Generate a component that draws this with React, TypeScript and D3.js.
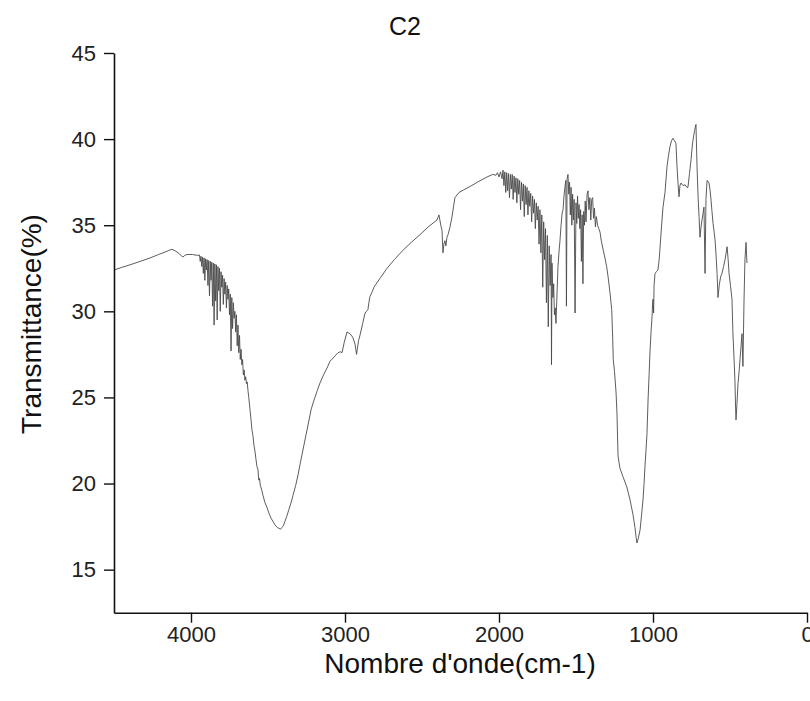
import * as d3 from 'd3'
import { useEffect, useRef } from 'react'

// [wavenumber cm-1, transmittance %], left to right
const baseline: [number, number][] = [
  [4500, 32.4], [4450, 32.55], [4396, 32.7], [4330, 32.9], [4266, 33.1], [4210, 33.3],
  [4169, 33.44], [4140, 33.55], [4123, 33.6], [4100, 33.5], [4084, 33.4], [4065, 33.25],
  [4052, 33.15], [4040, 33.25], [4026, 33.3], [3990, 33.3], [3960, 33.25], [3945, 33.27],
]

const ohNoise: [number, number][] = [
  [3940, 32.9], [3935, 33.2], [3930, 32.6], [3925, 33.15], [3920, 32.2], [3915, 33.1],
  [3910, 31.8], [3905, 33.05], [3900, 32.4], [3895, 33.0], [3890, 31.5], [3885, 32.95],
  [3880, 30.9], [3875, 32.9], [3870, 31.8], [3865, 32.85], [3860, 30.3], [3855, 32.8],
  [3850, 29.2], [3845, 32.75], [3840, 30.6], [3835, 32.7], [3830, 29.5], [3825, 32.6],
  [3820, 31.2], [3815, 32.5], [3810, 30.0], [3805, 32.3], [3800, 31.4], [3795, 32.1],
  [3790, 30.4], [3785, 31.9], [3780, 31.0], [3775, 31.7], [3770, 30.2], [3765, 31.5],
  [3760, 30.7], [3755, 31.3], [3750, 29.8], [3745, 31.0], [3740, 27.7], [3735, 30.8],
  [3730, 29.0], [3725, 30.5], [3720, 29.6], [3715, 30.0], [3710, 28.8], [3705, 29.8],
  [3700, 28.0], [3695, 29.2], [3690, 27.6], [3685, 28.6], [3680, 27.2], [3675, 27.8],
  [3670, 26.9], [3665, 27.2], [3660, 26.3], [3655, 26.6], [3650, 26.0],
]

const ohBand: [number, number][] = [
  [3645, 26.2], [3640, 25.8], [3635, 25.9], [3630, 25.4], [3625, 25.0], [3617, 24.3],
  [3610, 23.7], [3604, 23.1], [3598, 22.8], [3591, 22.2], [3585, 21.9], [3578, 21.4],
  [3572, 21.0], [3565, 20.8], [3560, 20.2], [3555, 20.3], [3550, 19.9], [3540, 19.6],
  [3532, 19.3], [3520, 18.9], [3506, 18.6], [3495, 18.3], [3481, 18.0], [3468, 17.8],
  [3455, 17.6], [3440, 17.45], [3429, 17.4], [3418, 17.35], [3409, 17.45], [3400, 17.55],
  [3390, 17.8], [3378, 18.1], [3364, 18.5], [3350, 18.9], [3338, 19.3], [3320, 19.9],
  [3305, 20.5], [3290, 21.2], [3273, 21.95], [3256, 22.7], [3240, 23.4], [3220, 24.3],
  [3201, 24.85], [3180, 25.4], [3162, 25.85], [3140, 26.3], [3117, 26.7], [3097, 27.1],
  [3071, 27.35], [3045, 27.6], [3030, 27.65], [3019, 27.6],
]

const chRegion: [number, number][] = [
  [3005, 28.2], [2987, 28.8], [2968, 28.7], [2950, 28.5], [2935, 28.1], [2925, 27.5],
  [2920, 27.8], [2912, 28.3], [2903, 28.6], [2885, 29.3], [2870, 29.9], [2860, 30.0],
  [2851, 30.1], [2845, 30.5], [2838, 30.85], [2825, 31.1], [2812, 31.4], [2770, 31.95],
  [2727, 32.5], [2680, 33.0], [2623, 33.55], [2570, 34.0], [2513, 34.45], [2460, 34.9],
  [2403, 35.3],
]

const co2Dip: [number, number][] = [
  [2390, 35.6], [2378, 35.0], [2370, 34.7], [2364, 33.4], [2358, 33.9], [2351, 34.1],
  [2345, 33.8], [2338, 34.3], [2331, 34.45], [2318, 34.9], [2305, 35.5], [2295, 36.1],
  [2286, 36.6], [2260, 36.9], [2230, 37.05], [2188, 37.25], [2130, 37.55], [2078, 37.8],
  [2040, 37.95], [2020, 37.9], [2010, 38.05], [2000, 37.8], [1990, 38.1], [1980, 37.7],
  [1974, 38.2],
]

const waterNoise: [number, number][] = [
  [1968, 37.3], [1962, 38.1], [1956, 36.9], [1950, 38.05], [1944, 37.0], [1938, 38.0],
  [1932, 36.6], [1926, 37.95], [1920, 37.1], [1914, 37.95], [1908, 36.5], [1902, 37.85],
  [1896, 36.9], [1890, 37.75], [1884, 36.3], [1878, 37.7], [1872, 36.8], [1866, 37.6],
  [1860, 35.9], [1854, 37.5], [1848, 36.4], [1842, 37.4], [1836, 35.5], [1830, 37.3],
  [1824, 36.2], [1818, 37.2], [1812, 35.6], [1806, 37.0], [1800, 36.1], [1794, 36.85],
  [1788, 35.2], [1782, 36.7], [1776, 35.7], [1770, 36.5], [1764, 34.8], [1758, 36.3],
  [1752, 35.3], [1746, 36.1], [1740, 33.9], [1734, 35.9], [1728, 33.4], [1722, 35.6],
  [1716, 31.4], [1710, 35.2], [1704, 33.0], [1698, 34.8], [1692, 30.5], [1686, 34.4],
  [1680, 29.1], [1674, 33.8], [1668, 31.5], [1662, 33.3], [1659, 26.9], [1656, 32.8],
  [1650, 30.8], [1645, 31.6], [1640, 29.8], [1635, 30.2], [1630, 29.3], [1625, 30.6],
]

const aromatic: [number, number][] = [
  [1617, 32.6], [1610, 33.5], [1604, 34.1], [1597, 35.0], [1590, 35.7], [1584, 35.9],
  [1578, 36.7], [1572, 37.2], [1566, 37.6], [1562, 30.3], [1558, 37.7], [1552, 37.95],
  [1547, 36.8], [1542, 37.5], [1537, 35.6], [1532, 37.2], [1527, 35.0], [1522, 36.8],
  [1517, 35.3], [1512, 36.5], [1506, 29.9], [1500, 36.3], [1495, 35.1], [1490, 36.7],
  [1485, 35.4], [1480, 36.2], [1475, 34.8], [1470, 35.9], [1465, 32.9], [1460, 35.6],
  [1455, 31.6], [1450, 35.8], [1445, 35.0], [1440, 36.4], [1435, 35.2], [1428, 36.8],
  [1422, 37.0], [1416, 35.9], [1410, 36.6], [1404, 35.3], [1398, 36.5], [1392, 36.6],
  [1386, 35.4], [1380, 36.0], [1374, 34.9], [1368, 35.5], [1360, 35.0], [1352, 34.8],
  [1344, 34.6],
]

const siliconBand: [number, number][] = [
  [1336, 34.1], [1323, 33.55], [1312, 33.1], [1301, 32.6], [1290, 31.9], [1279, 31.05],
  [1268, 30.1], [1262, 28.5], [1258, 27.2], [1250, 26.5], [1240, 25.3], [1234, 24.1],
  [1227, 21.6], [1215, 20.9], [1195, 20.4], [1170, 19.8], [1149, 19.05], [1130, 18.2],
  [1117, 17.45], [1110, 16.9], [1104, 16.55], [1096, 16.8], [1084, 17.3], [1075, 18.1],
  [1065, 19.05], [1058, 20.0], [1052, 21.0], [1045, 22.0], [1039, 22.9], [1032, 24.85],
  [1025, 26.4], [1019, 27.75], [1012, 28.9], [1006, 29.7], [1003, 30.4], [1000, 30.7],
]

const fingerprint: [number, number][] = [
  [996, 29.9], [993, 31.5], [987, 32.2], [978, 32.3], [968, 32.4], [960, 33.0],
  [955, 33.6], [945, 34.9], [935, 36.05], [922, 36.9], [909, 38.4], [900, 39.0],
  [890, 39.55], [880, 39.9], [870, 40.05], [860, 39.9], [851, 39.75], [844, 38.4],
  [838, 37.5], [831, 36.65], [825, 37.3], [818, 37.45], [805, 37.3], [792, 37.35],
  [780, 37.2], [773, 37.2], [763, 38.0], [753, 38.8], [745, 39.6], [740, 39.95],
  [730, 40.5], [721, 40.85], [714, 38.4], [707, 36.6], [701, 35.5], [695, 34.3],
  [688, 34.9], [682, 35.3], [675, 35.7], [669, 36.05], [662, 32.2], [656, 36.5],
  [649, 37.6], [643, 37.55], [636, 37.45], [629, 37.0], [623, 36.45], [617, 35.8],
  [610, 35.1], [603, 34.6], [597, 34.15], [590, 33.2], [584, 32.2], [578, 30.8],
  [570, 31.5], [561, 32.0], [552, 32.2], [542, 32.6], [532, 33.0], [525, 33.4],
  [519, 33.75], [512, 33.0], [506, 32.2], [497, 31.5], [487, 30.7], [481, 28.7],
  [474, 27.3], [468, 26.0], [464, 24.5], [461, 23.7], [455, 24.6], [448, 25.8],
  [440, 26.6], [435, 27.2], [428, 28.0], [422, 28.7], [416, 26.8], [409, 30.6],
  [403, 33.0], [396, 34.0], [390, 32.8],
]

const xMajor = [4000, 3000, 2000, 1000, 0]
const xMinor = [4500, 3500, 2500, 1500, 500]
const yMajor = [15, 20, 25, 30, 35, 40, 45]
const yMinor = [12.5, 17.5, 22.5, 27.5, 32.5, 37.5, 42.5]

const title = 'C2'
const xTitle = "Nombre d'onde(cm-1)"
const yTitle = 'Transmittance(%)'

export default function App() {
  const ref = useRef<SVGSVGElement>(null)

  useEffect(() => {
    const svg = d3.select(ref.current)
    svg.selectAll('*').remove()

    const font = '"Liberation Sans", Arial, sans-serif'
    const left = 114, right = 807, top = 53, bottom = 612.7

    const x = d3.scaleLinear().domain([4500, 0]).range([left, right])
    const y = d3.scaleLinear().domain([12.5, 45]).range([bottom, top])

    const data = [
      ...baseline, ...ohNoise, ...ohBand, ...chRegion, ...co2Dip,
      ...waterNoise, ...aromatic, ...siliconBand, ...fingerprint,
    ]

    const line = d3.line<[number, number]>()
      .x(d => x(d[0]))
      .y(d => y(d[1]))

    svg.append('path')
      .datum(data)
      .attr('fill', 'none')
      .attr('stroke', '#4a4a4a')
      .attr('stroke-width', 0.9)
      .attr('stroke-linejoin', 'round')
      .attr('d', line)

    // x axis
    const gx = svg.append('g').attr('transform', `translate(0,${bottom})`)
    gx.call(d3.axisBottom(x).tickValues(xMinor).tickSize(5).tickSizeOuter(0).tickFormat(() => ''))
    gx.call(d3.axisBottom(x).tickValues(xMajor).tickSize(10).tickPadding(4).tickSizeOuter(0).tickFormat(d3.format('d')))

    // y axis
    const gy = svg.append('g').attr('transform', `translate(${left},0)`)
    gy.call(d3.axisLeft(y).tickValues(yMinor).tickSize(5).tickSizeOuter(0).tickFormat(() => ''))
    gy.call(d3.axisLeft(y).tickValues(yMajor).tickSize(10).tickPadding(8).tickSizeOuter(0).tickFormat(d3.format('d')))

    svg.selectAll('.domain').attr('stroke', '#111').attr('stroke-width', 1.6)
    svg.selectAll('.tick line').attr('stroke', '#111').attr('stroke-width', 1.4)
    svg.selectAll('.tick text')
      .attr('fill', '#222')
      .style('font-family', font)
      .style('font-size', '22px')

    svg.append('text')
      .attr('x', 405)
      .attr('y', 35)
      .attr('text-anchor', 'middle')
      .attr('fill', '#111')
      .style('font-family', font)
      .style('font-size', '25px')
      .text(title)

    svg.append('text')
      .attr('x', 460)
      .attr('y', 673)
      .attr('text-anchor', 'middle')
      .attr('fill', '#111')
      .style('font-family', font)
      .style('font-size', '28px')
      .text(xTitle)

    svg.append('text')
      .attr('transform', `translate(41,324) rotate(-90)`)
      .attr('text-anchor', 'middle')
      .attr('fill', '#111')
      .style('font-family', font)
      .style('font-size', '28px')
      .text(yTitle)
  }, [])

  return (
    <svg
      ref={ref}
      width={810}
      height={701}
      style={{ position: 'absolute', left: 0, top: 0, background: '#fff' }}
    />
  )
}
